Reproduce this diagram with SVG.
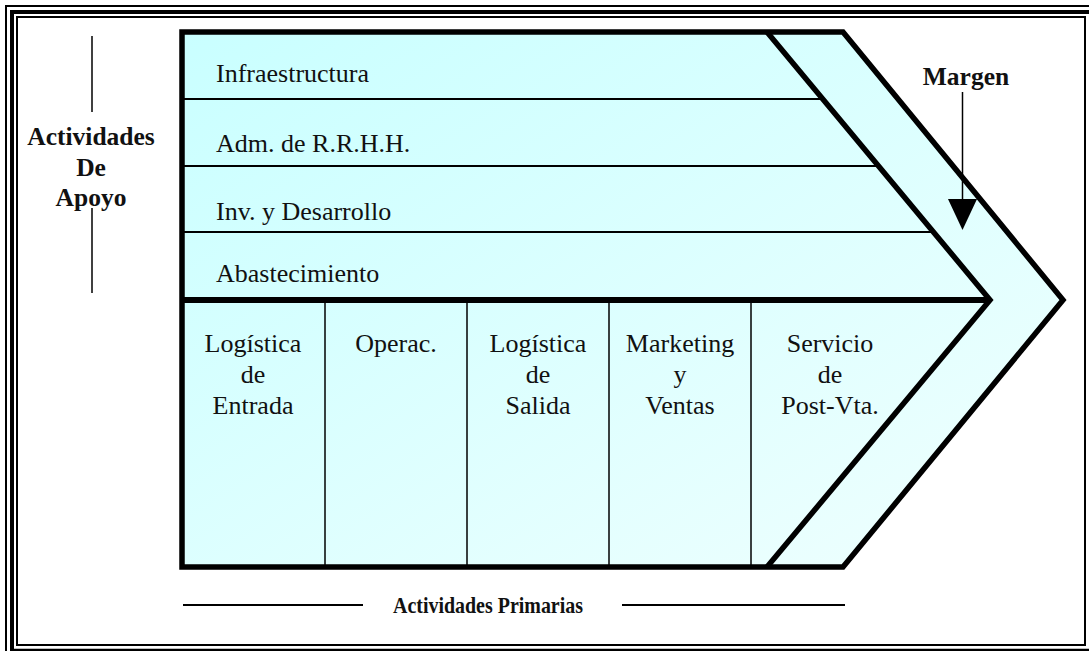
<svg xmlns="http://www.w3.org/2000/svg" width="1089" height="651" viewBox="0 0 1089 651">
<style>
text{font-family:'Liberation Serif','Times New Roman',serif;fill:#111}
.lbl{font-size:26px}
.bold{font-weight:bold}
.thick{fill:none;stroke:#000;stroke-width:5.5;stroke-linejoin:miter}
.thin{fill:none;stroke:#000;stroke-width:2}
.hair{fill:none;stroke:#000;stroke-width:1.5}
.frame{fill:none;stroke:#000}
</style>
<defs>
<linearGradient id="fillG" x1="0" y1="0" x2="1" y2="1">
<stop offset="0" stop-color="#c9ffff"/>
<stop offset="1" stop-color="#f0fffe"/>
</linearGradient>
<marker id="tri" markerWidth="31" markerHeight="29" refX="0" refY="14.5" orient="auto" markerUnits="userSpaceOnUse" viewBox="0 0 31 29">
<path d="M0,0 L31,14.5 L0,29 Z" fill="#000"/>
</marker>
</defs>
<rect width="1089" height="651" fill="#fff"/>
<g id="page-frame">
<path class="frame" stroke-width="2" d="M6,651 V6 H1089"/>
<path class="frame" stroke-width="4" d="M12,651 V12 H1089"/>
<rect class="frame" stroke-width="2" x="17" y="17" width="1068" height="628"/>
<path class="frame" stroke-width="2.5" d="M12,650 H1089"/>
</g>
<g id="value-chain">
<polygon points="182,32 843,32 1063,300 843,567 182,567" fill="url(#fillG)"/>
<g id="infraestructura"><text class="lbl" x="216" y="82">Infraestructura</text></g>
<g id="rrhh"><text class="lbl" x="216" y="152">Adm. de R.R.H.H.</text></g>
<g id="desarrollo"><text class="lbl" x="216" y="220">Inv. y Desarrollo</text></g>
<g id="abastecimiento"><text class="lbl" x="216" y="282">Abastecimiento</text></g>
<g id="logistica-entrada"><text class="lbl" text-anchor="middle"><tspan x="253" y="352">Logística</tspan><tspan x="253" y="383">de</tspan><tspan x="253" y="414">Entrada</tspan></text></g>
<g id="operaciones"><text class="lbl" text-anchor="middle" x="396" y="352">Operac.</text></g>
<g id="logistica-salida"><text class="lbl" text-anchor="middle"><tspan x="538" y="352">Logística</tspan><tspan x="538" y="383">de</tspan><tspan x="538" y="414">Salida</tspan></text></g>
<g id="marketing"><text class="lbl" text-anchor="middle"><tspan x="680" y="352">Marketing</tspan><tspan x="680" y="383">y</tspan><tspan x="680" y="414">Ventas</tspan></text></g>
<g id="servicio"><text class="lbl" text-anchor="middle"><tspan x="830" y="352">Servicio</tspan><tspan x="830" y="383">de</tspan><tspan x="830" y="414">Post-Vta.</tspan></text></g>
<g id="margen"><text class="bold" font-size="25.5" text-anchor="middle" x="966" y="85">Margen</text></g>
<line class="thin" x1="182" y1="99" x2="822" y2="99"/>
<line class="thin" x1="182" y1="166" x2="878" y2="166"/>
<line class="thin" x1="182" y1="232" x2="933" y2="232"/>
<line class="hair" x1="325" y1="300" x2="325" y2="567"/>
<line class="hair" x1="467" y1="300" x2="467" y2="567"/>
<line class="hair" x1="609" y1="300" x2="609" y2="567"/>
<line class="hair" x1="751" y1="300" x2="751" y2="567"/>
<line stroke="#000" stroke-width="6" x1="182" y1="300" x2="988" y2="300"/>
<polyline class="thick" points="767,32 990,300 767,567"/>
<polygon class="thick" points="182,32 843,32 1063,300 843,567 182,567"/>
</g>
<g id="apoyo-label">
<text class="bold" font-size="25.5" text-anchor="middle"><tspan x="91" y="145">Actividades</tspan><tspan x="91" y="176">De</tspan><tspan x="91" y="206">Apoyo</tspan></text>
</g>
<g id="primarias-label">
<text class="bold" font-size="24" x="393" y="613" textLength="190" lengthAdjust="spacingAndGlyphs">Actividades Primarias</text>
</g>
<g id="connectors">
<line class="hair" x1="92" y1="36" x2="92" y2="112"/>
<line class="hair" x1="92" y1="208" x2="92" y2="293"/>
<line class="thin" x1="183" y1="605" x2="363" y2="605"/>
<line class="thin" x1="622" y1="605" x2="845" y2="605"/>
<line class="hair" x1="962.5" y1="92" x2="962.5" y2="199" marker-end="url(#tri)"/>
</g>
</svg>
